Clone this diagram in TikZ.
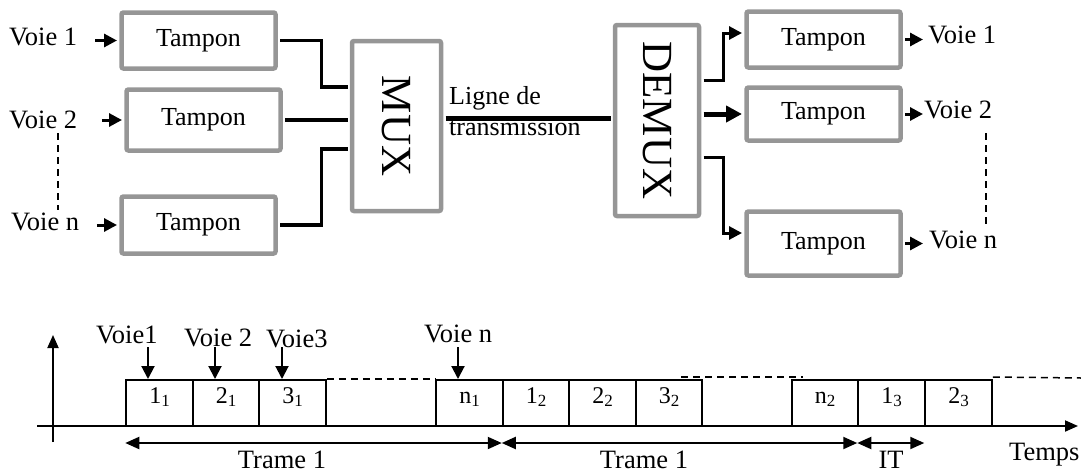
\documentclass[tikz,border=0pt]{standalone}
\usepackage{fontspec}
\setmainfont{Liberation Serif}
\usetikzlibrary{arrows.meta}
\definecolor{boxgray}{RGB}{150,150,150}
\newcommand{\slotsub}[1]{\raisebox{-3pt}{\fontsize{17}{17}\selectfont #1}}
\begin{document}
\begin{tikzpicture}[x=1pt,y=-1pt,
  buf/.style={draw=boxgray, line width=4.5pt, rounded corners=2pt, inner sep=0pt, font=\fontsize{26}{30}\selectfont},
  lbl/.style={inner sep=0pt, font=\fontsize{26.5}{30}\selectfont},
  wire/.style={line width=3.5pt, shorten <=2.25pt, shorten >=2.25pt},
  wirethin/.style={line width=3pt},
  tip/.style={-{Triangle[length=13pt,width=13pt]}},
  bigtip/.style={-{Triangle[length=16pt,width=16pt]}},
  slot/.style={draw, line width=2pt, minimum width=66.5pt, minimum height=46pt, inner sep=0pt, text height=14pt, text depth=14pt, font=\fontsize{24}{24}\selectfont},
  axis/.style={line width=2pt, -{Triangle[length=13pt,width=11pt]}},
  down/.style={line width=2pt, -{Triangle[length=13pt,width=13pt]}},
  dim/.style={line width=2pt, {Triangle[length=14pt,width=12pt]}-{Triangle[length=14pt,width=12pt]}},
  dots/.style={line width=1.5pt, dash pattern=on 7pt off 5pt}
]
\useasboundingbox (0,0) rectangle (1081,472);

% ---- left buffers
\node[buf, minimum width=154pt, minimum height=56pt] (L1) at (198.5,40.5) {Tampon};
\node[buf, minimum width=154pt, minimum height=61pt] (L2) at (203.5,120) {Tampon};
\node[buf, minimum width=154pt, minimum height=57pt] (L3) at (198.5,225) {Tampon};
% ---- MUX / DEMUX
\node[buf, minimum width=89pt, minimum height=170pt] (mux) at (396.5,126) {\rotatebox{-90}{\fontsize{43}{43}\selectfont MUX}};
\node[buf, minimum width=84pt, minimum height=191pt] (demux) at (657,120.5) {\rotatebox{-90}{\fontsize{43}{43}\selectfont DEMUX}};
% ---- right buffers
\node[buf, minimum width=154pt, minimum height=56pt] (R1) at (823.5,39.5) {Tampon};
\node[buf, minimum width=154pt, minimum height=53pt] (R2) at (823.5,114) {Tampon};
\node[buf, minimum width=154pt, minimum height=64pt] (R3) at (823.5,243.5) {Tampon};

% ---- input labels and arrows
\node[lbl, anchor=base west] (i1) at (9,45) {Voie 1};
\node[lbl, anchor=base west] (i2) at (9,128) {Voie 2};
\node[lbl, anchor=base west] (i3) at (11,230) {Voie n};
\draw[wirethin, tip, shorten >=2.25pt] ([xshift=-24pt]L1.west) -- (L1.west);
\draw[wirethin, tip, shorten >=2.25pt] ([xshift=-22.5pt]L2.west) -- (L2.west);
\draw[wirethin, tip, shorten >=2.25pt] ([xshift=-22.5pt]L3.west) -- (L3.west);
\draw[dots] (58,133) -- (58,210);

% ---- buffers to MUX
\draw[wire] (L1.east) -- ++(43.5,0) |- ([yshift=39pt]mux.west);
\draw[wire] (L2.east) -- (L2.east -| mux.west);
\draw[wire] (L3.east) -- ++(43.5,0) |- ([yshift=-23pt]mux.west);

% ---- transmission line
\coordinate (t1) at ([yshift=8pt]mux.east);
\draw[line width=5pt, shorten <=2.25pt, shorten >=2.25pt] (t1) -- (t1 -| demux.west);
\node[lbl, anchor=north west, align=left, font=\fontsize{26}{31}\selectfont] (ligne) at (449,86) {Ligne de\\transmission};

% ---- DEMUX to buffers
\draw[wirethin, tip, shorten <=2.25pt, shorten >=2.25pt] ([yshift=40.5pt]demux.east) -- ++(22,0) |- ([yshift=6.5pt]R1.west);
\draw[line width=5pt, bigtip, shorten <=2.25pt, shorten >=2.25pt] (demux.east |- R2.west) -- (R2.west);
\draw[wirethin, tip, shorten <=2.25pt, shorten >=2.25pt] ([yshift=-36.5pt]demux.east) -- ++(22,0) |- ([yshift=10.5pt]R3.west);

% ---- outputs
\node[lbl, anchor=base west] (o1) at (928,43) {Voie 1};
\node[lbl, anchor=base west] (o2) at (924,118) {Voie 2};
\node[lbl, anchor=base west] (o3) at (929,248) {Voie n};
\draw[wirethin, tip, shorten <=2.25pt, shorten >=5pt] (R1.east) -- (R1.east -| o1.west);
\draw[wirethin, tip, shorten <=2.25pt, shorten >=1pt] (R2.east) -- (R2.east -| o2.west);
\draw[wirethin, tip, shorten <=2.25pt, shorten >=6pt] (R3.east) -- (R3.east -| o3.west);
\draw[dots] (986,133) -- (986,224);

% ---- time diagram
\node[slot] (s11) at (159.5,403) {1\slotsub{1}};
\node[slot] (s21) at (226,403) {2\slotsub{1}};
\node[slot] (s31) at (292.5,403) {3\slotsub{1}};
\node[slot] (sn1) at (469.5,403) {n\slotsub{1}};
\node[slot] (s12) at (536,403) {1\slotsub{2}};
\node[slot] (s22) at (602.5,403) {2\slotsub{2}};
\node[slot] (s32) at (669,403) {3\slotsub{2}};
\node[slot] (sn2) at (825,403) {n\slotsub{2}};
\node[slot] (s13) at (891.5,403) {1\slotsub{3}};
\node[slot] (s23) at (958.5,403) {2\slotsub{3}};

\draw[axis] (53,442) -- (53,335);
\draw[axis] (37,426) -- (1078,426);

\draw[dots] (s31.north east) -- (sn1.north west);
\draw[dots] ([xshift=-22pt,yshift=2pt]s32.north east) -- ([xshift=12pt,yshift=2pt]sn2.north west);
\draw[dots] ([yshift=2pt]s23.north east) -- (1081,378);

\node[lbl, anchor=base west] (b1) at (96,343) {Voie1};
\node[lbl, anchor=base west] (b2) at (184,346) {Voie 2};
\node[lbl, anchor=base west] (b3) at (266,347) {Voie3};
\node[lbl, anchor=base west] (bn) at (424,342) {Voie n};
\draw[down] ([xshift=-11.5pt,yshift=32pt]s11.north) -- ([xshift=-11.5pt]s11.north);
\draw[down] ([xshift=-11pt,yshift=32pt]s21.north) -- ([xshift=-11pt]s21.north);
\draw[down] ([xshift=-10.5pt,yshift=32pt]s31.north) -- ([xshift=-10.5pt]s31.north);
\draw[down] ([xshift=-11.5pt,yshift=32pt]sn1.north) -- ([xshift=-11.5pt]sn1.north);

\draw[dim] ([yshift=-16pt]s11.south west) -- ([yshift=-16pt]s12.south west);
\draw[dim] ([yshift=-16pt]s12.south west) -- ([yshift=-16pt]s13.south west);
\draw[dim] ([yshift=-16pt]s13.south west) -- ([yshift=-16pt]s23.south west);

\node[lbl, anchor=base] (tr1) at (282,468) {Trame 1};
\node[lbl, anchor=base] (tr2) at (644,468) {Trame 1};
\node[lbl, anchor=base] (it) at (891,468) {IT};
\node[lbl, anchor=base west] (tps) at (1009,460) {Temps};
\end{tikzpicture}
\end{document}
